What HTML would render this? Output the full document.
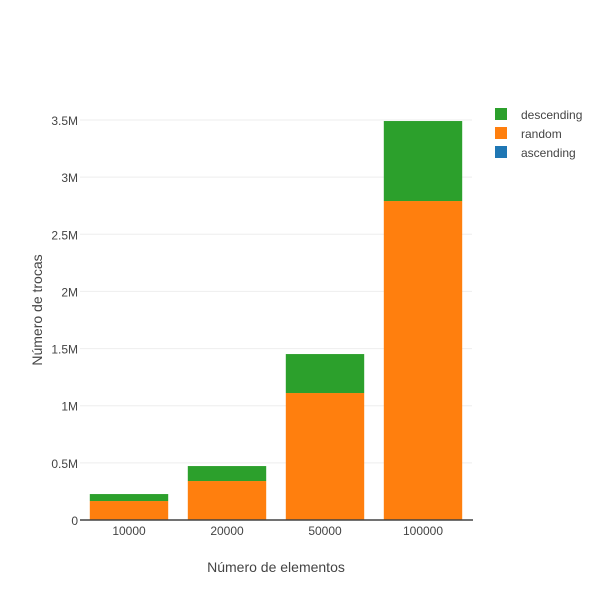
<!DOCTYPE html>
<html><head><meta charset="utf-8"><style>
body{margin:0;background:#fff;font-family:"Liberation Sans",sans-serif}
svg text{font-family:"Liberation Sans",sans-serif;fill:#444}
</style></head><body>
<svg id="chart" width="600" height="600">
<g id="grid"></g>
<g id="bars"></g>
<g id="axes"></g>
<text x="276" y="572" text-anchor="middle" font-size="14">Número de elementos</text>
<text transform="translate(42,310) rotate(-90)" text-anchor="middle" font-size="14">Número de trocas</text>
<g id="legend"></g>
</svg>
<script>
const categories=["10000","20000","50000","100000"];
const ascending=[0,0,0,0];
const random=[0.166e6,0.341e6,1.111e6,2.791e6];
const descending=[0.061e6,0.131e6,0.341e6,0.70e6];
const yTicks=[0,0.5e6,1e6,1.5e6,2e6,2.5e6,3e6,3.5e6];
const yTickLabels=["0","0.5M","1M","1.5M","2M","2.5M","3M","3.5M"];
const NS="http://www.w3.org/2000/svg";
const X0=80,X1=472,Y0=520,Ymax=3.5e6,Ytop=120;
const y=v=>Y0-(v/Ymax)*(Y0-Ytop);
const band=(X1-X0)/categories.length;
const xc=i=>X0+band*(i+0.5);
function mk(tag,attrs,parent){const e=document.createElementNS(NS,tag);for(const k in attrs)e.setAttribute(k,attrs[k]);parent.appendChild(e);return e;}
const grid=document.getElementById('grid'),bars=document.getElementById('bars'),axes=document.getElementById('axes'),legend=document.getElementById('legend');
yTicks.forEach((t,i)=>{
 if(i>0){const l=mk('line',{x1:X0,x2:X1,y1:y(t),y2:y(t),stroke:'#eee'},grid);
 
 }
 const tx=mk('text',{x:X0-2,y:y(t)+5,'text-anchor':'end','font-size':12},axes);tx.textContent=yTickLabels[i];
 
 
});
const series=[[ascending,'#1f77b4','ascending'],[random,'#ff7f0e','random'],[descending,'#2ca02c','descending']];
const bw=band*0.8;
categories.forEach((c,i)=>{
 let base=0;
 series.forEach(([vals,col,name])=>{
  const v=vals[i];
  if(v>0){const r=mk('rect',{x:xc(i)-bw/2,y:y(base+v),width:bw,height:y(base)-y(base+v),fill:col},bars);
  
  }
  base+=v;
 });
 const tx=mk('text',{x:xc(i),y:Y0+15,'text-anchor':'middle','font-size':12},axes);tx.textContent=c;
 
 
});
const ax=mk('line',{x1:X0,x2:X1+1,y1:Y0,y2:Y0,stroke:'#444','stroke-width':1.5},axes);


[['descending','#2ca02c'],['random','#ff7f0e'],['ascending','#1f77b4']].forEach(([n,col],i)=>{
 const g=mk('g',{},legend);
 
 
 mk('rect',{x:495,y:108+i*19,width:12,height:12,fill:col},g);
 const t=mk('text',{x:521,y:119+i*19,'font-size':12},g);t.textContent=n;
});
</script>
</body></html>
